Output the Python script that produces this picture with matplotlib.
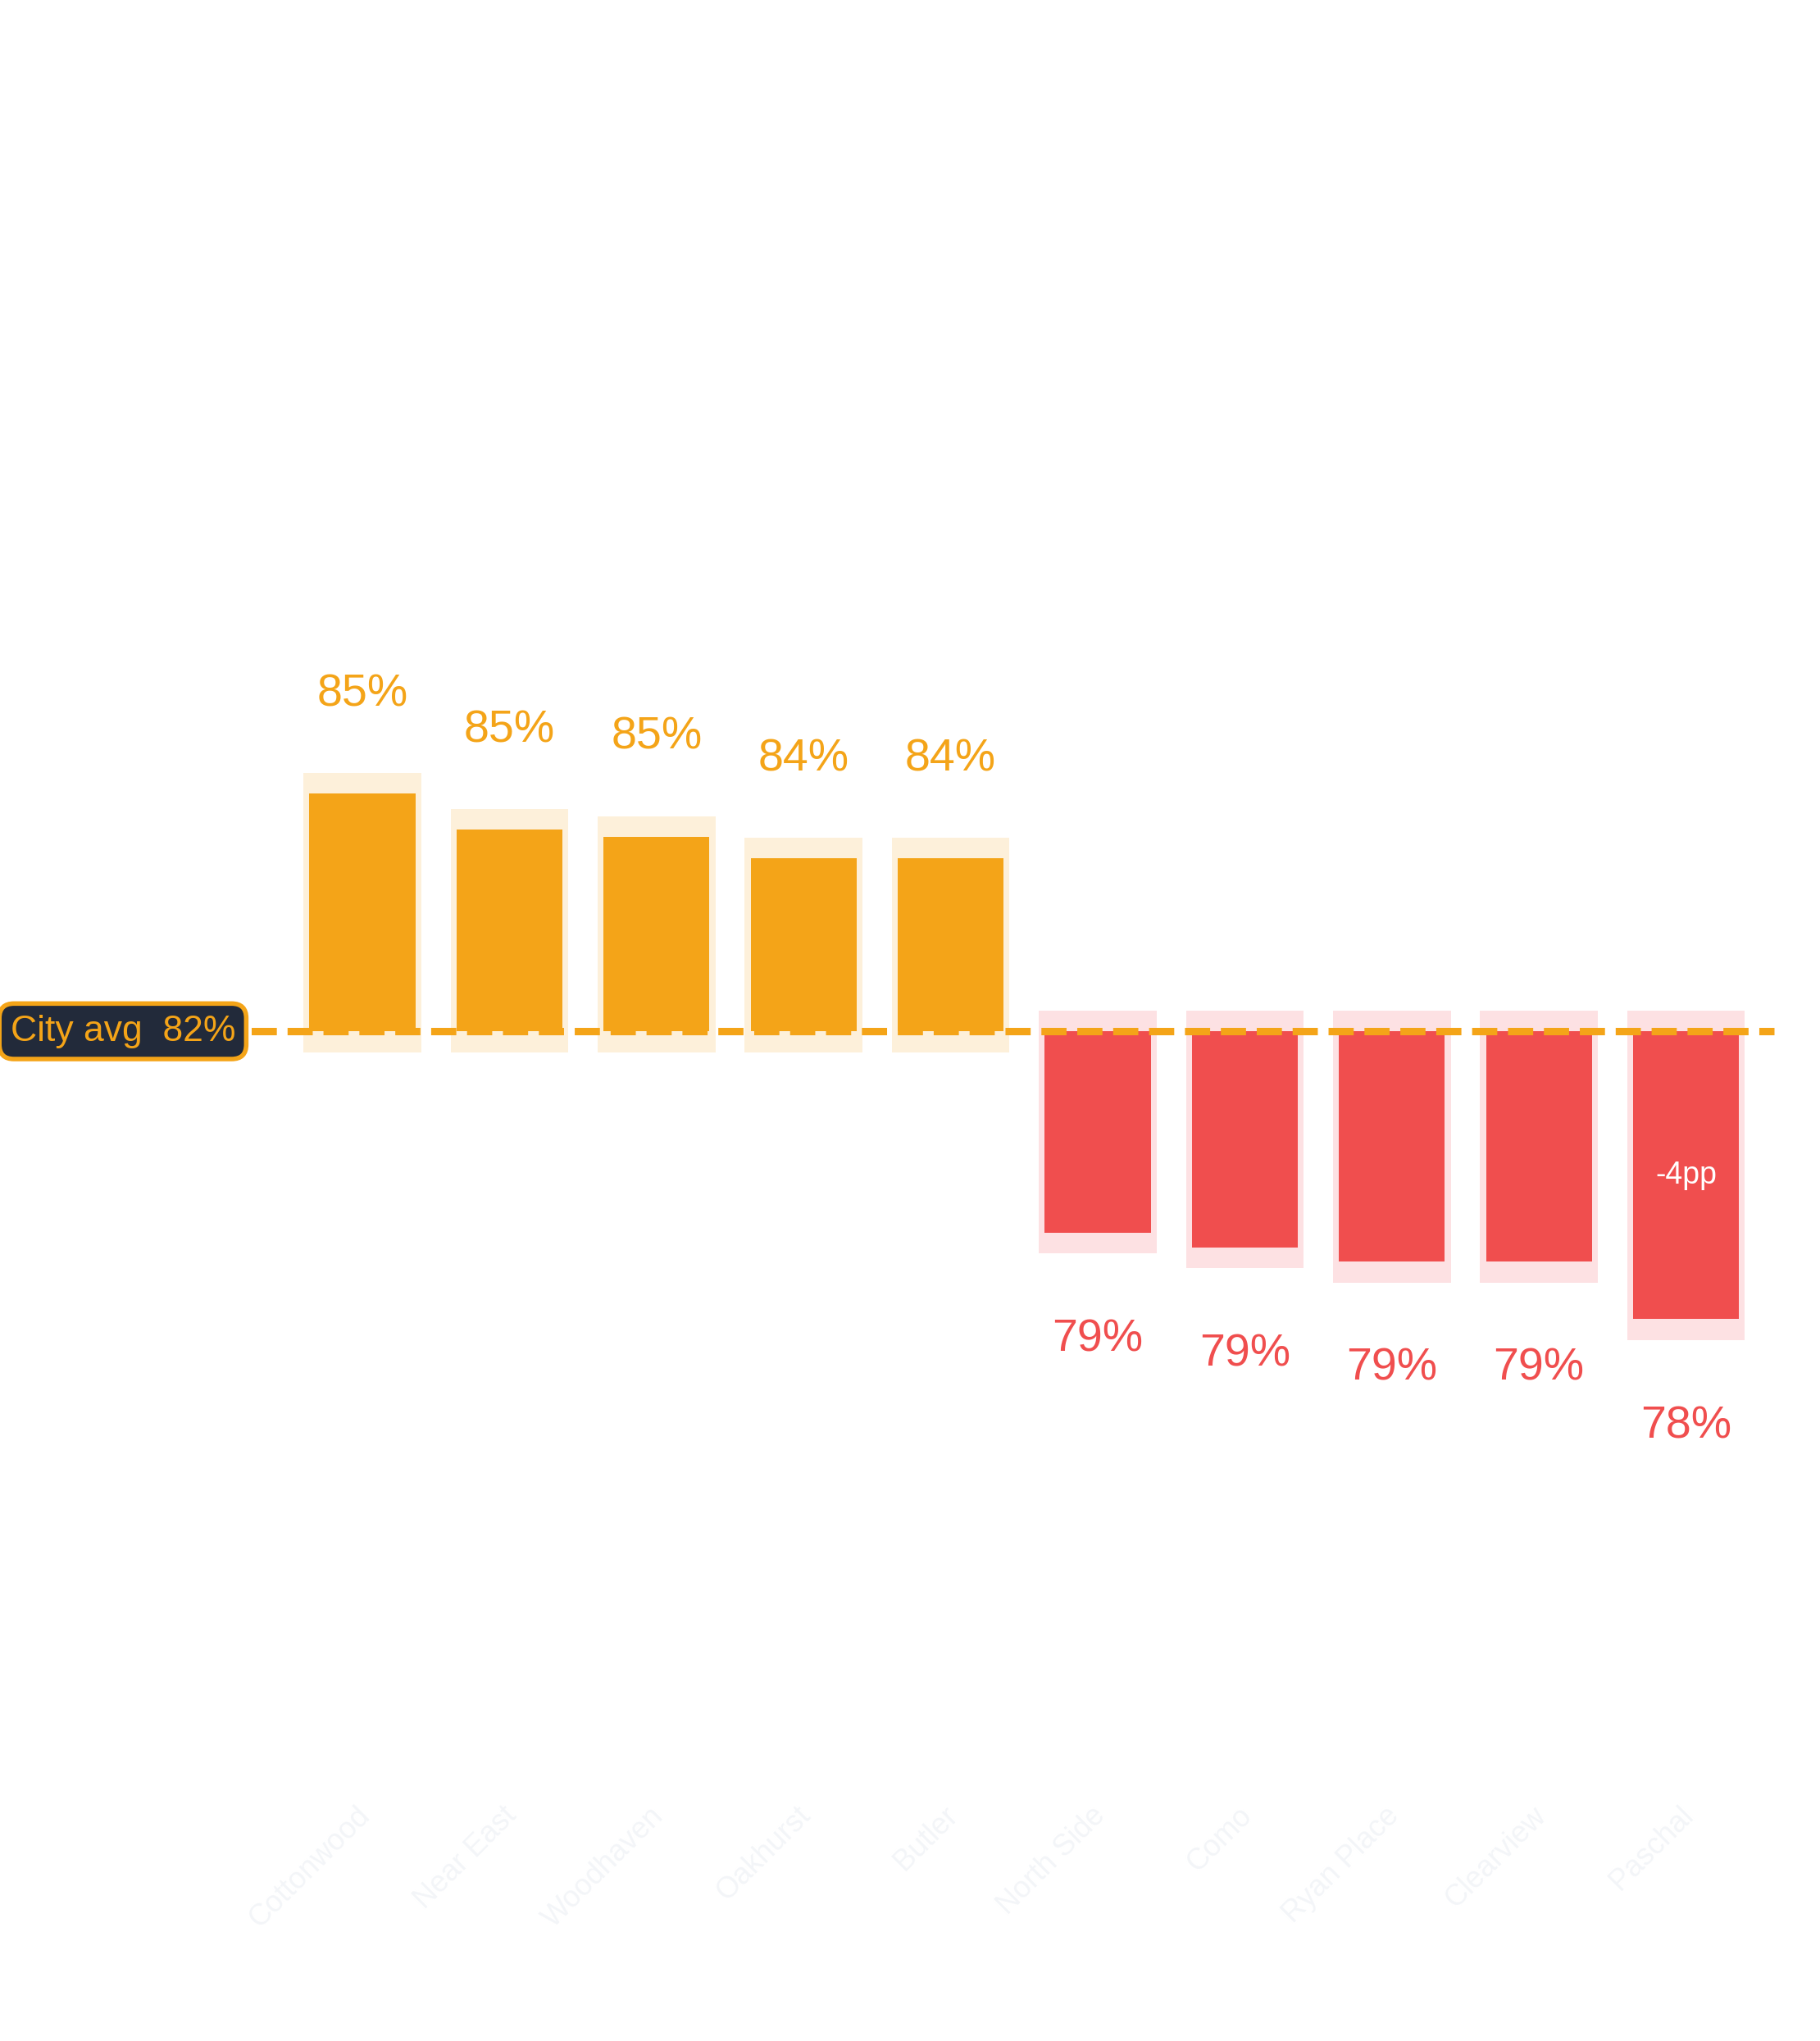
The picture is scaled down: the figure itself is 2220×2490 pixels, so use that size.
import matplotlib.pyplot as plt

plt.rcParams['font.family'] = ['Liberation Sans', 'DejaVu Sans']

# Data
neighborhoods = ["Cottonwood", "Near East", "Woodhaven", "Oakhurst", "Butler",
                 "North Side", "Como", "Ryan Place", "Clearview", "Paschal"]
rates = [85.3, 84.8, 84.7, 84.4, 84.4, 79.2, 79.0, 78.8, 78.8, 78.0]
city_avg = 82.0

orange, red = "#f4a418", "#f04e4e"
orange_bg, red_bg = "#fdf0da", "#fde1e3"

fig = plt.figure(figsize=(22.2, 24.9), dpi=100)
ax = fig.add_axes([0, 0, 1, 1])
ax.set_xlim(-2.464, 9.911)
ax.set_ylim(67.97, 96.33)
ax.axis("off")

pad = 0.29
for i, (name, v) in enumerate(zip(neighborhoods, rates)):
    above = v >= city_avg
    c, bg = (orange, orange_bg) if above else (red, red_bg)
    lo, hi = min(v, city_avg), max(v, city_avg)
    ax.bar(i, hi - lo + 2 * pad, bottom=lo - pad, width=0.80, color=bg, zorder=1)
    ax.bar(i, hi - lo, bottom=lo, width=0.72, color=c, zorder=2)
    if above:
        ax.text(i, v + 1.38, f"{round(v)}%", ha="center", va="center",
                fontsize=40, color=orange, zorder=4)
    else:
        ax.text(i, v - 1.49, f"{round(v)}%", ha="center", va="center",
                fontsize=40, color=red, zorder=4)
    ax.text(i - 0.05, 71.3, name, rotation=45, rotation_mode="anchor",
            ha="right", va="top", fontsize=26, color="#f3f5f8", zorder=1)

# -4pp annotation on the last bar
diff = rates[-1] - city_avg
ax.text(len(rates) - 1, 80.0, f"{diff:.0f}pp", ha="center", va="center",
        fontsize=27, color="white", zorder=4)

# city average line
ax.plot([-2.464, 9.6], [city_avg, city_avg], color=orange, lw=6.5,
        dashes=(3.4, 1.45), zorder=3, solid_capstyle="butt")
ax.text(-0.864, city_avg, f"City avg  {city_avg:.0f}%", ha="right", va="center",
        fontsize=32, color=orange, zorder=5,
        bbox=dict(boxstyle="round,pad=0.3,rounding_size=0.4", fc="#222a3a",
                  ec=orange, lw=4))

fig.savefig("out.png", dpi=100)
